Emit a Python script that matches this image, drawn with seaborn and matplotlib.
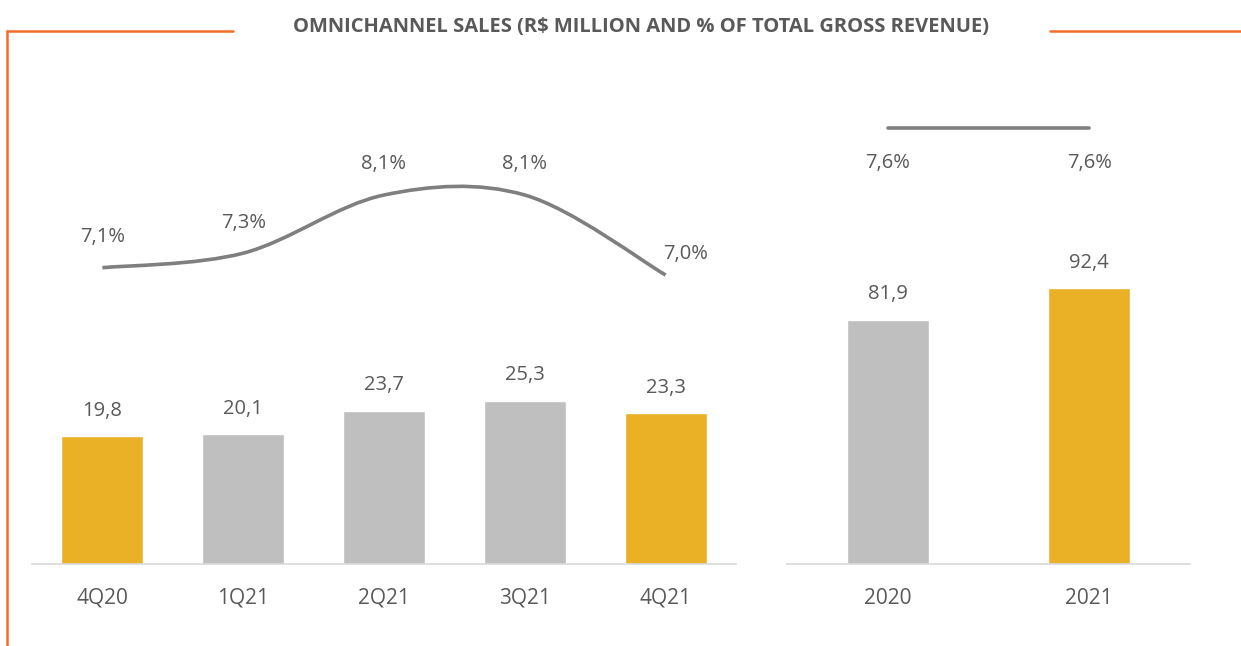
import matplotlib
matplotlib.use("Agg")
import matplotlib.pyplot as plt
import seaborn as sns
import numpy as np
from matplotlib.path import Path
from matplotlib.patches import PathPatch
from matplotlib.lines import Line2D

# ---------------- data ----------------
quarters = ["4Q20", "1Q21", "2Q21", "3Q21", "4Q21"]
quarter_sales = [19.8, 20.1, 23.7, 25.3, 23.3]
quarter_share = [7.1, 7.3, 8.1, 8.1, 7.0]
quarter_colors = ["#EAB026", "#BFBFBF", "#BFBFBF", "#BFBFBF", "#EAB026"]

years = ["2020", "2021"]
year_sales = [81.9, 92.4]
year_share = [7.6, 7.6]
year_colors = ["#BFBFBF", "#EAB026"]

title = "OMNICHANNEL SALES (R$ MILLION AND % OF TOTAL GROSS REVENUE)"

# ---------------- style ----------------
sns.set_theme(style="white")
FONT = ["Open Sans", "DejaVu Sans"]
plt.rcParams["font.family"] = FONT
TXT = "#595959"
LINE = "#7F7F7F"
ORANGE = "#F36C2B"
W, H = 1241, 646

fig = plt.figure(figsize=(W / 100, H / 100), dpi=100)

def px_axes(x0, x1, ytop, ybot):
    return fig.add_axes([x0 / W, 1 - ybot / H, (x1 - x0) / W, (ybot - ytop) / H])

axL = px_axes(32, 736, 60, 564)
axR = px_axes(787, 1190, 60, 564)

def fmt(v, pct=False):
    s = f"{v:.1f}".replace(".", ",")
    return s + ("%" if pct else "")

def style_axes(ax):
    for s in ["top", "left", "right"]:
        ax.spines[s].set_visible(False)
    ax.spines["bottom"].set_color("#D9D9D9")
    ax.spines["bottom"].set_linewidth(1.2)
    ax.set_yticks([])
    ax.set_xlabel("")
    ax.set_ylabel("")
    ax.tick_params(axis="x", length=0, pad=17, labelsize=15, labelcolor=TXT)

# ---- left: quarterly bars ----
sns.barplot(x=quarters, y=quarter_sales, hue=quarters, palette=quarter_colors,
            width=0.582, legend=False, ax=axL, saturation=1)
axL.set_xlim(-0.5, 4.5)
axL.set_ylim(0, 78)
style_axes(axL)
for i, v in enumerate(quarter_sales):
    axL.annotate(fmt(v), (i, v), xytext=(0, 18.4), textcoords="offset points",
                 ha="center", va="center", fontsize=14.5, color=TXT)

tL = axL.twinx()
tL.set_ylim(3.025, 9.957)
tL.set_xlim(-0.5, 4.5)
tL.axis("off")
# smoothed line (Catmull-Rom as cubic Bezier through the data points)
xs = np.arange(len(quarter_share), dtype=float)
ys = np.array(quarter_share, dtype=float)
P = np.column_stack([xs, ys])
Pext = np.vstack([P[0], P, P[-1]])
verts = [tuple(P[0])]
codes = [Path.MOVETO]
for i in range(len(P) - 1):
    p0, p1, p2, p3 = Pext[i], Pext[i + 1], Pext[i + 2], Pext[i + 3]
    c1 = p1 + (p2 - p0) / 6
    c2 = p2 - (p3 - p1) / 6
    verts += [tuple(c1), tuple(c2), tuple(p2)]
    codes += [Path.CURVE4] * 3
tL.add_patch(PathPatch(Path(verts, codes), facecolor="none", edgecolor=LINE,
                       lw=2.6, capstyle="butt"))
for i, v in enumerate(quarter_share):
    if i == len(quarter_share) - 1:
        off = (14.5, 15)
    else:
        off = (0, 22)
    tL.annotate(fmt(v, True), (i, v), xytext=off, textcoords="offset points",
                ha="center", va="center", fontsize=14.5, color=TXT)

# ---- right: yearly bars ----
sns.barplot(x=years, y=year_sales, hue=years, palette=year_colors,
            width=0.407, legend=False, ax=axR, saturation=1)
axR.set_xlim(-0.5, 1.5)
axR.set_ylim(0, 169)
style_axes(axR)
for i, v in enumerate(year_sales):
    axR.annotate(fmt(v), (i, v), xytext=(0, 18.4), textcoords="offset points",
                 ha="center", va="center", fontsize=14.5, color=TXT)

tR = axR.twinx()
sns.lineplot(x=[0, 1], y=year_share, ax=tR, color=LINE, lw=2.6, legend=False)
tR.set_xlim(-0.5, 1.5)
tR.set_ylim(1.603, 8.535)
tR.axis("off")
for i, v in enumerate(year_share):
    tR.annotate(fmt(v, True), (i, v), xytext=(0, -25), textcoords="offset points",
                ha="center", va="center", fontsize=14.5, color=TXT)

# ---- title and frame decorations ----
fig.text(641 / W, 1 - 27 / H, title, ha="center", va="center",
         fontsize=14.5, fontweight="bold", color=TXT)

def fx(x):
    return x / W

def fy(y):
    return 1 - y / H

fig.add_artist(Line2D([fx(7), fx(233)], [fy(31), fy(31)], color=ORANGE, lw=1.8))
fig.add_artist(Line2D([fx(1050), fx(1241)], [fy(31), fy(31)], color=ORANGE, lw=1.8))
fig.add_artist(Line2D([fx(7), fx(7)], [fy(31), fy(646)], color=ORANGE, lw=1.8))

fig.savefig("out.png", dpi=100)
